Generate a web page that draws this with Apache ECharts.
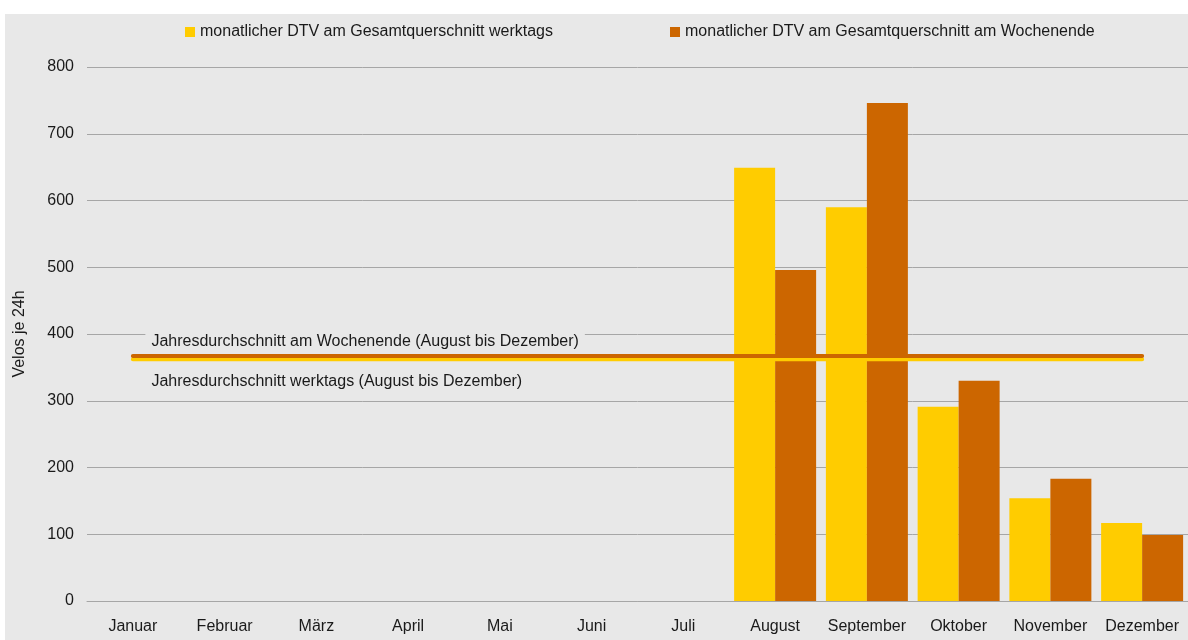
<!DOCTYPE html>
<html>
<head>
<meta charset="utf-8">
<script src="https://cdn.jsdelivr.net/npm/echarts@6/dist/echarts.min.js"></script>
<style>
  html, body { margin: 0; padding: 0; background: #ffffff; }
  #chart { position: absolute; left: 5px; top: 14px; width: 1183px; height: 626px; background: #e8e8e8; }
</style>
</head>
<body>
<div id="chart"></div>
<script>
// Monate auf der x-Achse
const months = ['Januar', 'Februar', 'März', 'April', 'Mai', 'Juni', 'Juli',
  'August', 'September', 'Oktober', 'November', 'Dezember']
// monatlicher DTV werktags / am Wochenende (Velos je 24h)
const werktags = [null, null, null, null, null, null, null, 649, 590, 291, 154, 117]
const wochenende = [null, null, null, null, null, null, null, 496, 746, 330, 183, 99]
// Jahresdurchschnitt (August bis Dezember), als Linie über alle Monate
const avgWerktags = [362, 362, 362, 362, 362, 362, 362, 362, 362, 362, 362, 362]
const avgWochenende = [367, 367, 367, 367, 367, 367, 367, 367, 367, 367, 367, 367]

const nameWerktags = 'monatlicher DTV am Gesamtquerschnitt werktags'
const nameWochenende = 'monatlicher DTV am Gesamtquerschnitt am Wochenende'
const labelWerktags = 'Jahresdurchschnitt werktags (August bis Dezember)'
const labelWochenende = 'Jahresdurchschnitt am Wochenende (August bis Dezember)'

const font = '"Liberation Sans", Arial, sans-serif'
const textColor = '#1a1a1a'

function withFirstLabel (values, text, offset) {
  return values.map((v, i) => {
    if (i !== 0) return v
    return {
      value: v,
      label: {
        show: true,
        formatter: text,
        position: 'right',
        distance: 0,
        offset: offset,
        fontFamily: font,
        fontSize: 16,
        color: textColor,
        backgroundColor: '#e8e8e8',
        padding: [3, 6]
      }
    }
  })
}

const chart = echarts.init(document.getElementById('chart'))
chart.setOption({
  animation: false,
  textStyle: { fontFamily: font },
  legend: {
    data: [nameWerktags, nameWochenende],
    left: 175,
    top: 5,
    itemWidth: 10,
    itemHeight: 10,
    itemGap: 117,
    icon: 'rect',
    textStyle: { fontSize: 16, color: textColor, fontFamily: font }
  },
  grid: {
    left: 82,
    right: 0,
    top: 53,
    bottom: 39,
    outerBoundsMode: 'none'
  },
  xAxis: {
    type: 'category',
    data: months,
    axisTick: { show: false },
    axisLine: { lineStyle: { color: '#a6a6a6', width: 1 } },
    axisLabel: { fontSize: 16, color: textColor, margin: 18, interval: 0 }
  },
  yAxis: {
    type: 'value',
    min: 0,
    max: 800,
    interval: 100,
    name: 'Velos je 24h',
    nameLocation: 'middle',
    nameGap: 59,
    nameTextStyle: { fontSize: 16, color: textColor },
    axisLine: { show: false },
    axisTick: { show: false },
    axisLabel: { fontSize: 16, color: textColor, margin: 13 },
    splitLine: { lineStyle: { color: '#a6a6a6', width: 1 } }
  },
  series: [
    {
      name: nameWerktags,
      type: 'bar',
      data: werktags,
      barWidth: 41,
      barGap: '0%',
      itemStyle: { color: '#ffcc00' },
      z: 2
    },
    {
      name: nameWochenende,
      type: 'bar',
      data: wochenende,
      barWidth: 41,
      barGap: '0%',
      itemStyle: { color: '#cc6600' },
      z: 2
    },
    {
      name: labelWerktags,
      type: 'line',
      data: withFirstLabel(avgWerktags, labelWerktags, [12, 22]),
      symbol: 'circle',
      symbolSize: 1,
      itemStyle: { color: 'rgba(0,0,0,0)' },
      lineStyle: { color: '#ffcc00', width: 4, cap: 'round' },
      z: 5
    },
    {
      name: labelWochenende,
      type: 'line',
      data: withFirstLabel(avgWochenende, labelWochenende, [12, -14]),
      symbol: 'circle',
      symbolSize: 1,
      itemStyle: { color: 'rgba(0,0,0,0)' },
      lineStyle: { color: '#cc6600', width: 4, cap: 'round' },
      z: 6
    }
  ]
})
</script>
</body>
</html>
